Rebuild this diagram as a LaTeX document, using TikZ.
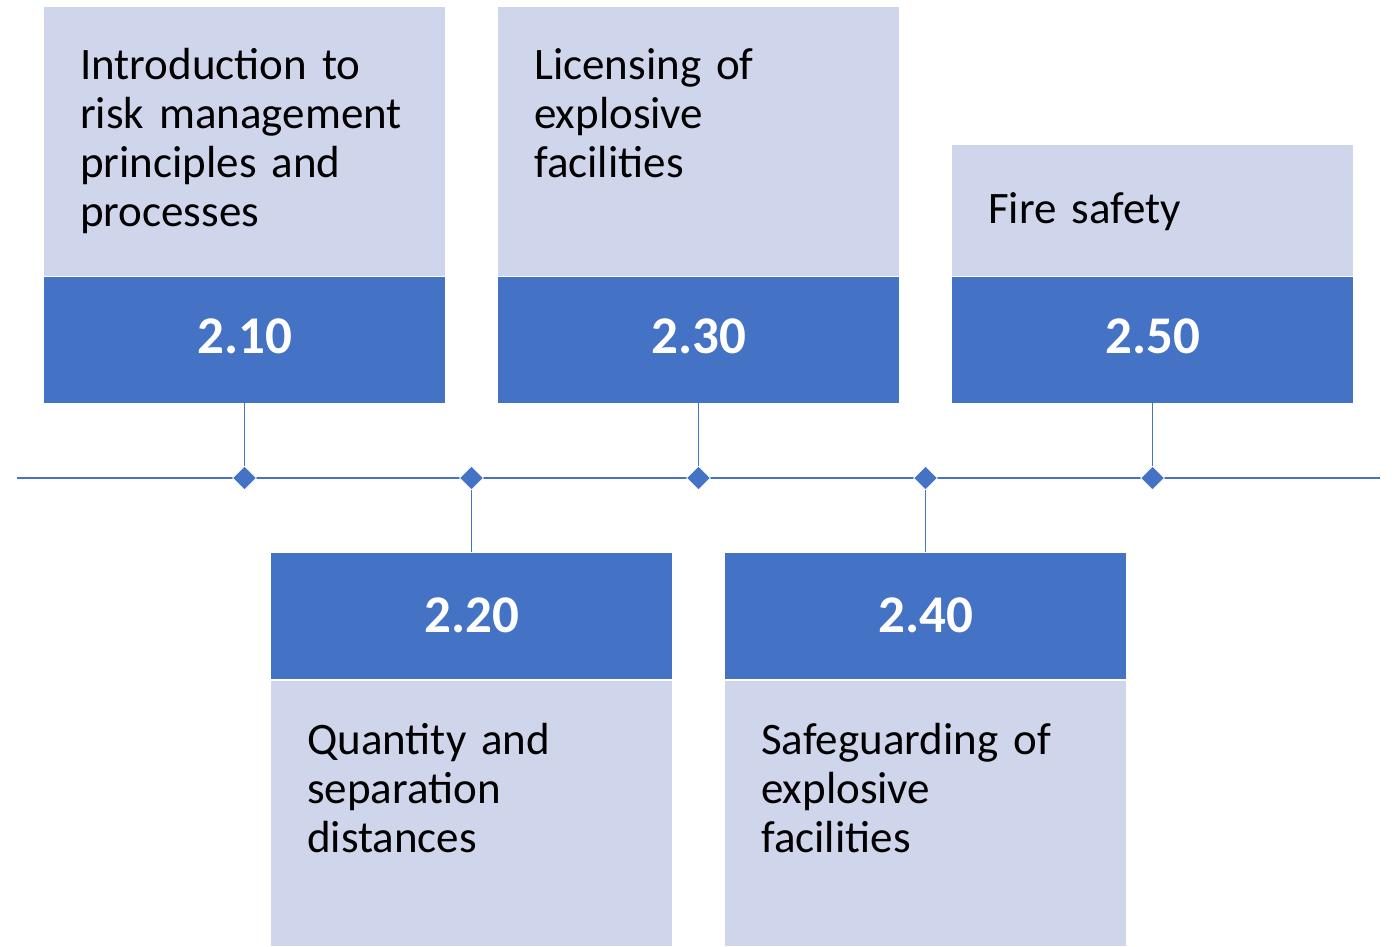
\documentclass[tikz,border=0pt]{standalone}
\usepackage{fontspec}
\setmainfont{Carlito}
\usetikzlibrary{shapes.geometric}
\definecolor{accblue}{HTML}{4472C4}
\definecolor{acclight}{HTML}{CFD5EA}
\tikzset{
  lightbox/.style={rectangle, fill=acclight, draw=white, line width=0.6pt, minimum width=402pt, inner sep=0pt},
  bluebox/.style={rectangle, fill=accblue, draw=white, line width=0.6pt, minimum width=402pt, minimum height=127pt, inner sep=0pt},
  numtxt/.style={text=white, font=\fontsize{53}{58}\selectfont\bfseries, inner sep=0pt},
  bodytxt/.style={text=black, font=\fontsize{45}{49}\selectfont, inner sep=0pt, text width=360pt, align=left, anchor=base west},
  dmark/.style={diamond, fill=accblue, draw=white, line width=0.8pt, minimum width=24pt, minimum height=24pt, inner sep=0pt},
  tline/.style={accblue, line width=2.5pt},
  conn/.style={accblue, line width=1.3pt}
}
\begin{document}
\begin{tikzpicture}[x=1pt, y=-1pt]
\useasboundingbox (0,0) rectangle (1395,946);
% top boxes
\node[lightbox, minimum height=270pt] (t10) at (244.5,141) {};
\node[bluebox] (n10) at (244.5,339.5) {};
\node[lightbox, minimum height=270pt] (t30) at (698.5,141) {};
\node[bluebox] (n30) at (698.5,339.5) {};
\node[lightbox, minimum height=132pt] (t50) at (1152.5,210) {};
\node[bluebox] (n50) at (1152.5,339.5) {};
% bottom boxes
\node[bluebox] (n20) at (471.5,616) {};
\node[lightbox, minimum height=266pt] (t20) at (471.5,813) {};
\node[bluebox] (n40) at (925.5,616) {};
\node[lightbox, minimum height=266pt] (t40) at (925.5,813) {};
% numbers
\node[numtxt] (l10) at (244.5,336) {2.10};
\node[numtxt] (l30) at (698.5,336) {2.30};
\node[numtxt] (l50) at (1152.5,336) {2.50};
\node[numtxt] (l20) at (471.5,615) {2.20};
\node[numtxt] (l40) at (925.5,615) {2.40};
% texts
\node[bodytxt] (x10) at (80,79) {Introduction to\\risk management\\principles and\\processes};
\node[bodytxt] (x30) at (534,79) {Licensing of\\explosive\\facilities};
\node[bodytxt] (x50) at (988,223) {Fire safety};
\node[bodytxt] (x20) at (307,754) {Quantity and\\separation\\distances};
\node[bodytxt] (x40) at (761,754) {Safeguarding of\\explosive\\facilities};
% timeline
\coordinate (tlL) at (17,478);
\coordinate (tlR) at (1380,478);
\draw[tline] (tlL) -- (tlR);
\node[dmark] (d10) at (244.5,478) {};
\node[dmark] (d20) at (471.5,478) {};
\node[dmark] (d30) at (698.5,478) {};
\node[dmark] (d40) at (925.5,478) {};
\node[dmark] (d50) at (1152.5,478) {};
\draw[conn] (n10.south) -- (d10.north);
\draw[conn] (n30.south) -- (d30.north);
\draw[conn] (n50.south) -- (d50.north);
\draw[conn] (d20.south) -- (n20.north);
\draw[conn] (d40.south) -- (n40.north);
\end{tikzpicture}
\end{document}
